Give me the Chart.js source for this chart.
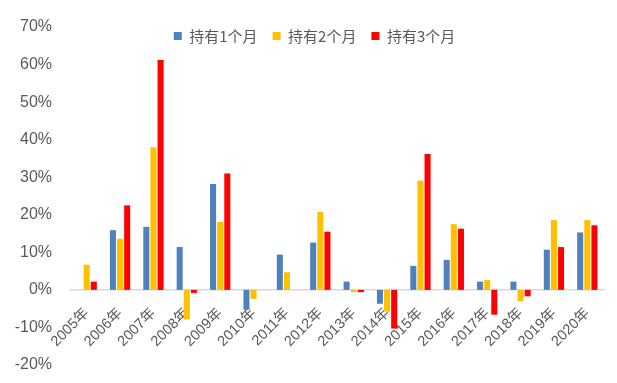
<!DOCTYPE html>
<html><head><meta charset="utf-8">
<script src="https://cdn.jsdelivr.net/npm/chart.js@4.4.0/dist/chart.umd.min.js"></script>
<style>html,body{margin:0;padding:0;background:#fff;}#wrap{width:617px;height:383px;}</style>
</head><body><div id="wrap"><canvas id="c" width="617" height="383"></canvas></div>
<script>
const categories = ['2005年','2006年','2007年','2008年','2009年','2010年','2011年','2012年','2013年','2014年','2015年','2016年','2017年','2018年','2019年','2020年'];
const seriesNames = ['持有1个月','持有2个月','持有3个月'];
const hold1 = [0, 15.9, 16.8, 11.4, 28.2, -5.3, 9.4, 12.6, 2.2, -3.7, 6.4, 8.0, 2.2, 2.2, 10.7, 15.3];
const hold2 = [6.7, 13.6, 38.0, -7.8, 18.1, -2.4, 4.7, 20.8, -0.6, -5.8, 29.1, 17.5, 2.6, -3.0, 18.6, 18.6];
const hold3 = [2.2, 22.5, 61.2, -0.8, 31.0, 0, 0, 15.5, -0.6, -10.3, 36.2, 16.3, -6.6, -1.7, 11.4, 17.2];
const yTickMin = -20, yTickMax = 70, yTickStep = 10;
const colors = ['#4F81BD','#FFC000','#FF0000'];
const FONT = '"Liberation Sans", "Noto Sans CJK SC", sans-serif';
const CJK = '"Noto Sans CJK SC", "Liberation Sans", sans-serif';

const legendOverlay = {
  id: 'legendOverlay',
  beforeUpdate(chart) {
    const lg = chart.legend;
    if (lg && !lg._patched) {
      const f = lg.fit;
      lg.fit = function() { f.call(this); this.height = 0; };
      lg.draw = function() { if (this.options.display) this._draw(); };
      lg._patched = true;
    }
  },
  afterLayout(chart) {
    const lg = chart.legend;
    if (!lg) return;
    lg.top = 13.5; lg.bottom = 13.5;
    lg.left += 12.5; lg.right += 12.5;
  }
};

new Chart(document.getElementById('c'), {
  type: 'bar',
  data: {
    labels: categories,
    datasets: [hold1, hold2, hold3].map((d, i) => ({
      label: seriesNames[i], data: d, backgroundColor: colors[i],
      categoryPercentage: 0.64, barPercentage: 0.85
    }))
  },
  options: {
    responsive: false, animation: false,
    layout: { padding: { top: 27, left: 0, right: 13, bottom: 18 } },
    plugins: {
      legend: {
        position: 'top',
        labels: { boxWidth: 8, boxHeight: 8, padding: 15, color: '#595959', font: { family: CJK, size: 15 } }
      },
      tooltip: { enabled: false }
    },
    scales: {
      x: {
        position: { y: 0 },
        afterFit(s) { s.height = 0; s.paddingLeft = 0; s.paddingRight = 0; },
        grid: { display: false, drawTicks: false },
        border: { display: true, color: '#d9d9d9', width: 1.5 },
        ticks: { color: '#595959', font: { family: FONT, size: 14.5 }, minRotation: 45, maxRotation: 45, padding: 15, autoSkip: false }
      },
      y: {
        min: yTickMin, max: yTickMax,
        afterFit(s) { s.width = 70; s.paddingTop = 0; s.paddingBottom = 0; },
        grid: { display: false, drawTicks: false },
        border: { display: false },
        ticks: { stepSize: yTickStep, color: '#595959', font: { family: FONT, size: 16 }, padding: 18, callback: v => v + '%' }
      }
    }
  },
  plugins: [legendOverlay]
});
</script></body></html>
